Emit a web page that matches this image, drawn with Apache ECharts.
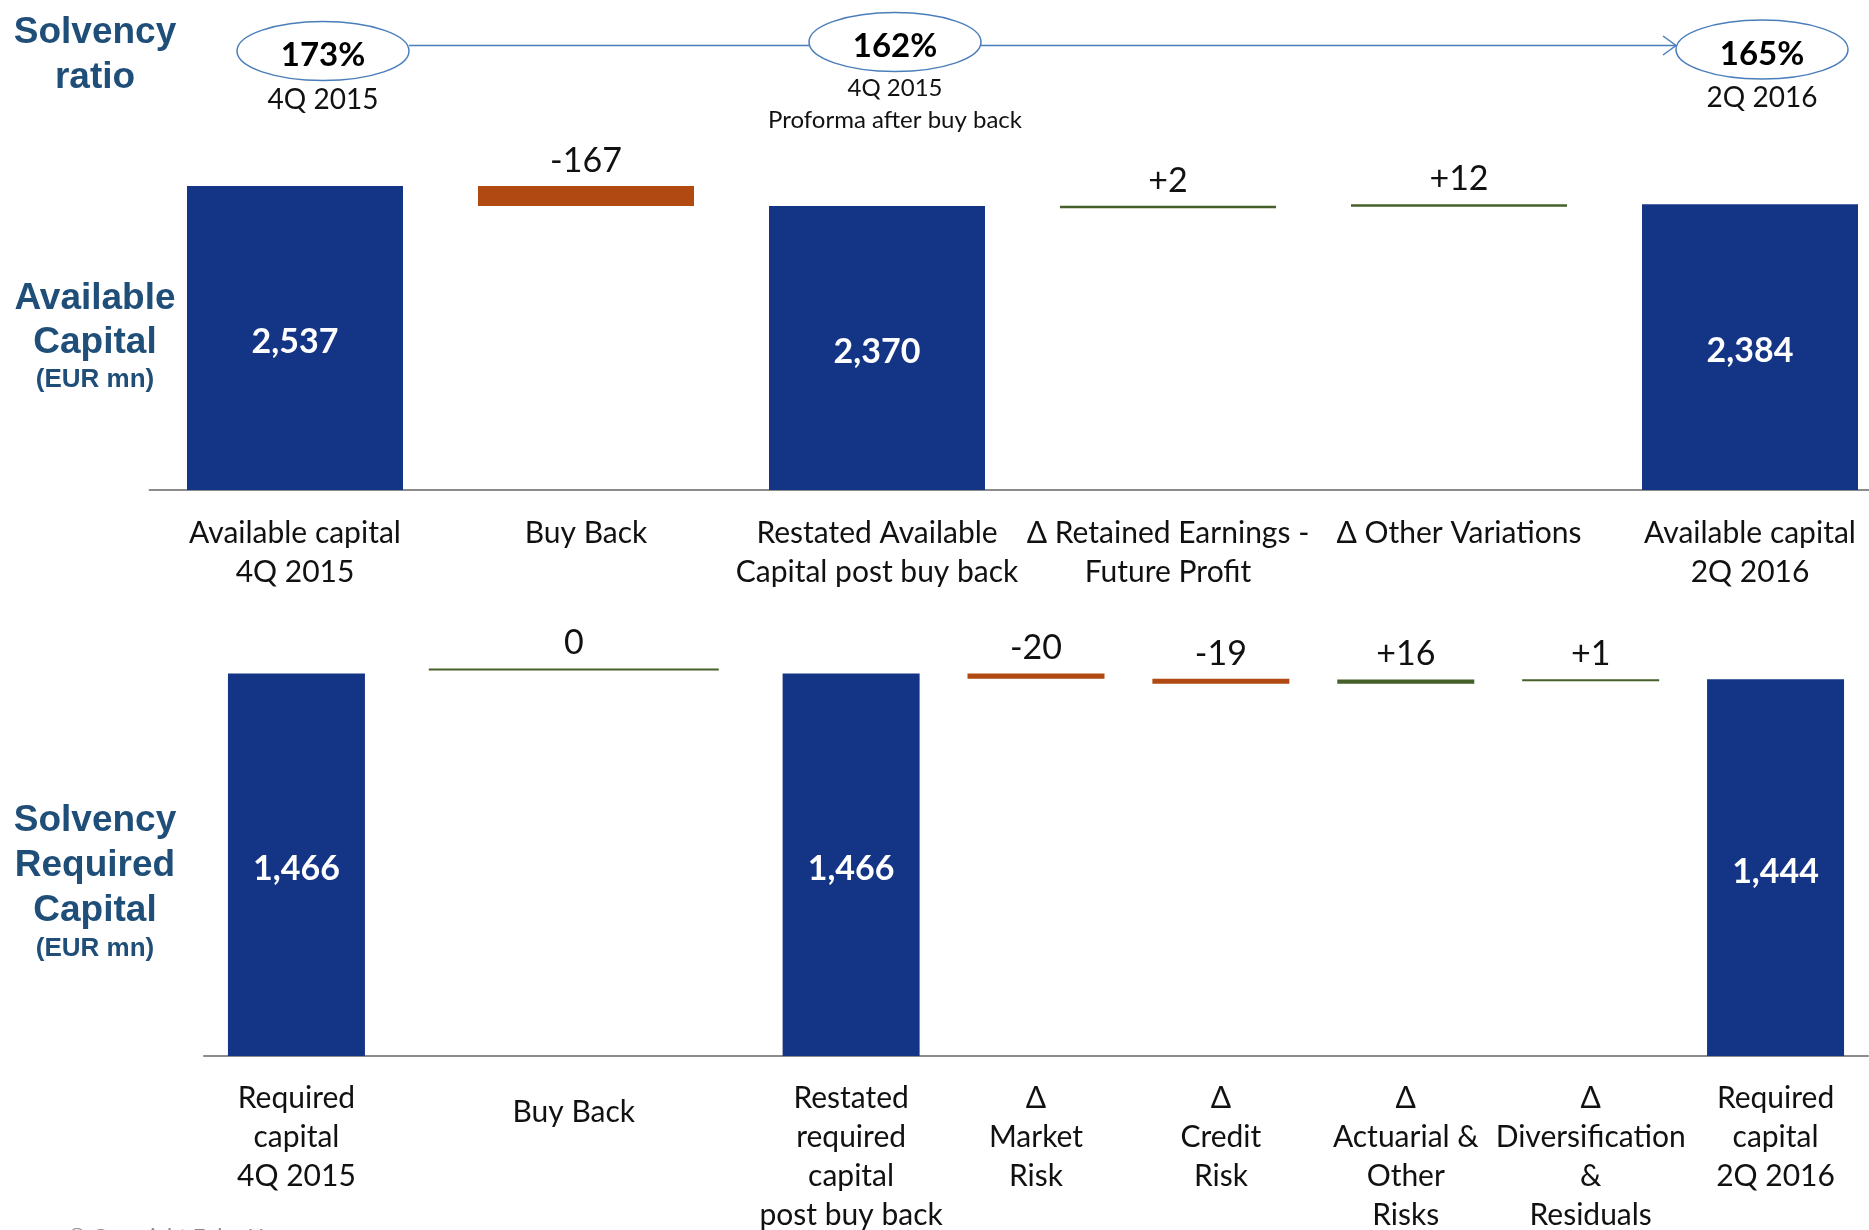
<!DOCTYPE html>
<html><head><meta charset="utf-8">
<script src="https://cdn.jsdelivr.net/npm/echarts@6/dist/echarts.min.js"></script>
<style>html,body{margin:0;padding:0;background:#fff}#c{width:1869px;height:1230px}</style>
</head><body><div id="c"></div>
<script>
// ---------------- DATA ----------------
const availCategories = ['Available capital\n4Q 2015', 'Buy Back', 'Restated Available\nCapital post buy back', 'Δ Retained Earnings -\nFuture Profit', 'Δ Other Variations', 'Available capital\n2Q 2016'];
const availTotals = [2537, null, 2370, null, null, 2384];
const availChanges = [null, -167, null, 2, 12, null];

const reqCategories = ['Required\ncapital\n4Q 2015', 'Buy Back', 'Restated\nrequired\ncapital\npost buy back', 'Δ\nMarket\nRisk', 'Δ\nCredit\nRisk', 'Δ\nActuarial &\nOther\nRisks', 'Δ\nDiversification\n&\nResiduals', 'Required\ncapital\n2Q 2016'];
const reqTotals = [1466, null, 1466, null, null, null, null, 1444];
const reqChanges = [null, 0, null, -20, -19, 16, 1, null];

const ratioValues = [173, 162, 165];
const ratioPeriods = ['4Q 2015', '4Q 2015', '2Q 2016'];
const ratioNotes = ['', 'Proforma after buy back', ''];

// ---------------- STYLE / LAYOUT ----------------
const BLUE = '#143486', ORANGE = '#B04A12', GREEN = '#46602A', TITLE = '#1F4E79', RING = '#4A7EBB';
const FONT = "Lato, 'Liberation Sans', sans-serif";
const TFONT = "'Liberation Sans', Arial, sans-serif";
const REQ_SLOTS = [1, 4, 7, 9, 11, 13, 15, 17];
const REQ_SLOT_COUNT = 19;

function steps(totals, changes) {
  let level = 0; const out = [];
  totals.forEach((t, i) => {
    if (t != null) { level = t; }
    else { const s = level, e = level + changes[i]; out.push([i, s, e, changes[i]]); level = e; }
  });
  return out;
}
function fmtDelta(d) { return d > 0 ? '+' + d : String(d); }

function deltaRenderer(barW, wideW, minH) {
  return function (params, api) {
    const x = api.value(0), s = api.value(1), e = api.value(2), d = api.value(3);
    const p1 = api.coord([x, s]), p2 = api.coord([x, e]);
    let top = Math.min(p1[1], p2[1]);
    let h = Math.abs(p1[1] - p2[1]);
    if (h < minH) { if (d === 0) top = p1[1] - minH - 3; h = minH; }
    const w = d === 0 ? wideW : barW;
    return {
      type: 'group', children: [
        { type: 'rect', shape: { x: p1[0] - w / 2, y: top, width: w, height: h }, style: { fill: d < 0 ? ORANGE : GREEN } },
        { type: 'text', style: { text: fmtDelta(d), x: p1[0], y: top - 8, align: 'center', verticalAlign: 'bottom', fill: '#111', font: '34px ' + FONT } }
      ]
    };
  };
}

// top chart
const availSteps = steps(availTotals, availChanges);
// bottom chart mapped onto slots
const reqAxisData = new Array(REQ_SLOT_COUNT).fill('');
const reqBarData = new Array(REQ_SLOT_COUNT).fill('-');
reqCategories.forEach((c, i) => {
  const single = c.indexOf('\n') < 0;
  reqAxisData[REQ_SLOTS[i]] = single ? { value: c, textStyle: { padding: [14, 0, 0, 0] } } : c;
  if (reqTotals[i] != null) reqBarData[REQ_SLOTS[i]] = reqTotals[i];
});
const reqSteps = steps(reqTotals, reqChanges).map(r => [REQ_SLOTS[r[0]], r[1], r[2], r[3]]);

const axisLabelStyle = { color: '#111', fontFamily: FONT, fontSize: 30, lineHeight: 39, interval: 0 };
const totalLabel = { show: true, position: 'inside', offset: [0, 4], color: '#fff', fontFamily: FONT, fontWeight: 'bold', fontSize: 34, formatter: p => p.value.toLocaleString('en-US') };

const chart = echarts.init(document.getElementById('c'));
chart.setOption({
  animation: false,
  backgroundColor: '#fff',
  grid: [
    { left: 149.5, top: 178.4, width: 1746, height: 311.6, outerBoundsMode: 'none', containLabel: false },
    { left: 204, top: 664.6, width: 1664, height: 391.4, outerBoundsMode: 'none', containLabel: false }
  ],
  xAxis: [
    { gridIndex: 0, type: 'category', data: availCategories, boundaryGap: true,
      axisLine: { lineStyle: { color: '#8c8c8c', width: 2 } }, axisTick: { show: false },
      axisLabel: Object.assign({ margin: 24 }, axisLabelStyle) },
    { gridIndex: 1, type: 'category', data: reqAxisData, boundaryGap: false,
      axisLine: { lineStyle: { color: '#8c8c8c', width: 2 } }, axisTick: { show: false },
      axisLabel: Object.assign({ margin: 23 }, axisLabelStyle) }
  ],
  yAxis: [
    { gridIndex: 0, type: 'value', min: 0, max: 2600, show: false },
    { gridIndex: 1, type: 'value', min: 0, max: 1500, show: false }
  ],
  series: [
    { type: 'bar', xAxisIndex: 0, yAxisIndex: 0, data: availTotals.map(v => v == null ? '-' : v), barWidth: 216,
      itemStyle: { color: BLUE }, label: totalLabel },
    { type: 'custom', xAxisIndex: 0, yAxisIndex: 0, data: availSteps, encode: { x: 0, y: [1, 2] },
      renderItem: deltaRenderer(216, 216, 2.5) },
    { type: 'bar', xAxisIndex: 1, yAxisIndex: 1, data: reqBarData, barWidth: 137,
      itemStyle: { color: BLUE }, label: totalLabel },
    { type: 'custom', xAxisIndex: 1, yAxisIndex: 1, data: reqSteps, encode: { x: 0, y: [1, 2] },
      renderItem: deltaRenderer(137, 290, 2) }
  ]
});

// ---------------- HEADER / SIDE TITLES ----------------
const ringPos = [[323, 51], [895, 42], [1762, 49.5]];
const subY = [[100], [88, 120], [98]];
const subSize = [28, 24, 28];
const g = [];
g.push({ type: 'line', shape: { x1: 409, y1: 45.5, x2: 809, y2: 45.5 }, style: { stroke: RING, lineWidth: 1.5 } });
g.push({ type: 'line', shape: { x1: 981, y1: 45.5, x2: 1676, y2: 45.5 }, style: { stroke: RING, lineWidth: 1.5 } });
g.push({ type: 'polyline', shape: { points: [[1663, 36], [1676, 45.5], [1663, 55]] }, style: { stroke: RING, lineWidth: 1.5, fill: null } });
ratioValues.forEach((v, i) => {
  const [cx, cy] = ringPos[i];
  g.push({ type: 'ellipse', shape: { cx: cx, cy: cy, rx: 86, ry: 29.5 }, style: { stroke: RING, lineWidth: 1.5, fill: '#fff' }, z: 10 });
  g.push({ type: 'text', x: cx, y: cy + 4.5, style: { text: v + '%', align: 'center', verticalAlign: 'middle', fill: '#000', font: 'bold 33px ' + FONT }, z: 11 });
  g.push({ type: 'text', x: cx, y: subY[i][0], style: { text: ratioPeriods[i], align: 'center', verticalAlign: 'middle', fill: '#111', font: subSize[i] + 'px ' + FONT }, z: 11 });
  if (ratioNotes[i]) g.push({ type: 'text', x: cx, y: subY[i][1], style: { text: ratioNotes[i], align: 'center', verticalAlign: 'middle', fill: '#111', font: '24px ' + FONT }, z: 11 });
});
const sideTitles = [
  ['Solvency', 33, 37], ['ratio', 78, 37],
  ['Available', 299, 37], ['Capital', 343, 37], ['(EUR mn)', 380, 26],
  ['Solvency', 821, 37], ['Required', 866, 37], ['Capital', 911, 37], ['(EUR mn)', 949, 26]
];
sideTitles.forEach(([t, y, s]) => {
  g.push({ type: 'text', x: 95, y: y, style: { text: t, align: 'center', verticalAlign: 'middle', fill: TITLE, font: 'bold ' + s + 'px ' + TFONT } });
});
g.push({ type: 'text', x: 68, y: 1226, style: { text: '© Copyright Euler Hermes', align: 'left', verticalAlign: 'top', fill: '#8a8a8a', font: '22px ' + FONT } });
chart.setOption({ graphic: g });
</script>
</body></html>
